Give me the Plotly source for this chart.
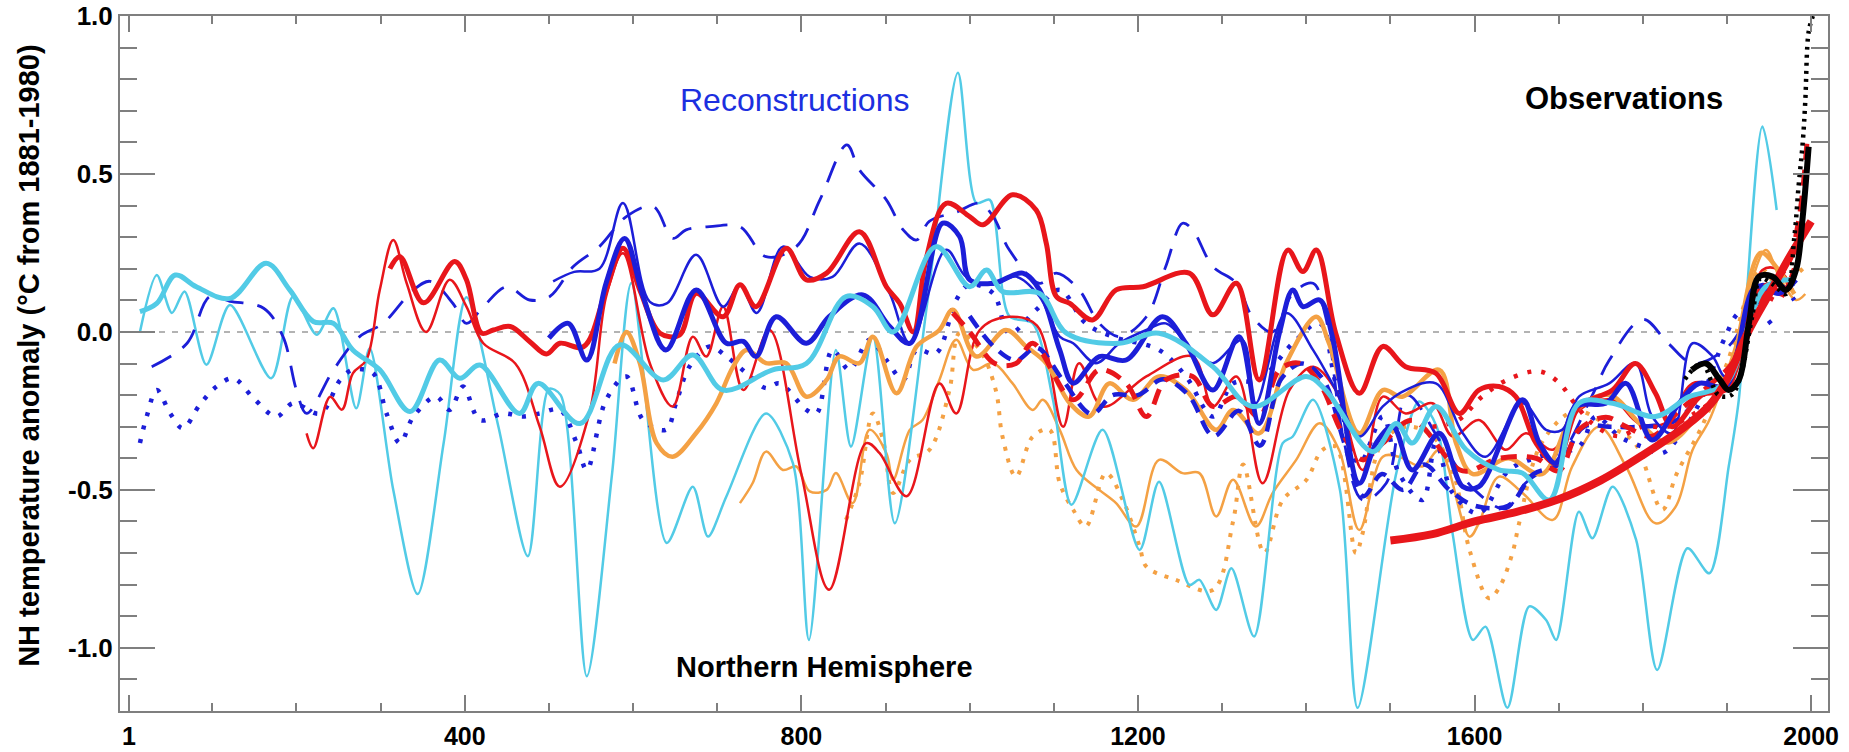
import plotly.graph_objects as go

# ---------------- data (years, anomaly degC) ----------------
cyan_thick_x = [14,34,56,81,121,164,192,220,244,267,299,335,370,394,418,465,487,537,584,636,671,707,766,806,853,885,909,960,1000,1020,1039,1083,1115,1178,1225,1289,1336,1400,1423,1479,1507,1526,1554,1590,1629,1657,1689,1724,1764,1815,1855,1883,1902,1946,1979]
cyan_thick_y = [0.064,0.09,0.18,0.143,0.106,0.217,0.133,0.033,0.027,-0.057,-0.12,-0.252,-0.089,-0.147,-0.105,-0.258,-0.163,-0.29,-0.041,-0.152,-0.073,-0.184,-0.12,-0.1,0.112,0.08,0.0,0.27,0.143,0.196,0.128,0.122,-0.004,-0.036,-0.004,-0.11,-0.236,-0.141,-0.184,-0.379,-0.29,-0.352,-0.236,-0.373,-0.437,-0.447,-0.532,-0.226,-0.226,-0.268,-0.205,-0.184,-0.152,0.143,0.165]

cyan_thin_x = [14,34,52,67,93,121,170,196,224,244,271,287,315,344,375,402,440,475,500,514,545,575,598,640,671,689,711,758,790,809,841,859,885,911,950,986,1008,1024,1047,1075,1099,1121,1158,1202,1225,1261,1273,1293,1311,1338,1372,1384,1408,1440,1461,1507,1534,1555,1574,1598,1613,1639,1665,1685,1697,1724,1740,1764,1792,1817,1853,1879,1902,1914,1942,1959]
cyan_thin_y = [0.0,0.18,0.06,0.128,-0.104,0.085,-0.147,0.112,-0.009,0.075,-0.242,-0.052,-0.5,-0.83,-0.35,0.11,-0.3,-0.71,-0.18,-0.2,-1.09,-0.45,0.155,-0.668,-0.49,-0.648,-0.52,-0.258,-0.416,-0.975,-0.057,-0.363,-0.015,-0.606,0.1,0.82,0.408,0.418,0.05,0.027,-0.215,-0.547,-0.31,-0.69,-0.474,-0.801,-0.785,-0.88,-0.748,-0.964,-0.352,-0.331,-0.215,-0.5,-1.19,-0.447,-0.22,-0.3,-0.64,-0.975,-0.933,-1.19,-0.869,-0.912,-0.975,-0.569,-0.653,-0.49,-0.658,-1.07,-0.685,-0.764,-0.426,-0.215,0.65,0.386]

red_thick_x = [311,323,351,388,402,420,434,454,477,497,513,541,568,588,608,632,655,675,707,727,746,782,806,830,869,901,917,933,948,972,1000,1016,1051,1079,1091,1103,1119,1146,1174,1206,1261,1289,1317,1344,1378,1396,1412,1435,1463,1491,1518,1554,1582,1605,1629,1649,1673,1697,1724,1764,1791,1815,1835,1870,1900,1930,1950,1965,1980]
red_thick_y = [0.2,0.238,0.092,0.223,0.165,-0.004,0.006,0.017,-0.03,-0.07,-0.036,-0.047,0.133,0.265,0.133,-0.004,-0.01,0.122,0.048,0.149,0.08,0.265,0.165,0.186,0.317,0.143,0.09,0.0,0.228,0.407,0.365,0.339,0.434,0.386,0.281,0.112,0.09,0.038,0.133,0.143,0.186,0.054,0.154,-0.152,0.259,0.191,0.259,-0.004,-0.194,-0.046,-0.11,-0.131,-0.258,-0.184,-0.173,-0.205,-0.352,-0.416,-0.236,-0.184,-0.1,-0.194,-0.3,-0.2,-0.18,0.1,0.15,0.12,0.2]

red_thin_x = [212,220,240,254,267,283,299,315,331,354,382,402,422,460,489,513,548,568,588,620,647,671,687,707,731,762,800,833,877,893,925,964,984,1012,1047,1080,1111,1130,1158,1210,1265,1289,1317,1348,1380,1408,1435,1467,1491,1518,1550,1574,1605,1637,1661,1693,1724,1764,1795,1827,1859,1902,1942,1962,1978]
red_thin_y = [-0.321,-0.368,-0.205,-0.246,-0.131,-0.089,0.133,0.291,0.154,0.0,0.165,0.08,-0.036,-0.1,-0.3,-0.49,-0.258,0.112,0.249,-0.1,-0.236,-0.015,-0.078,0.08,-0.184,0.006,-0.45,-0.816,-0.352,-0.384,-0.52,-0.163,-0.258,0.006,0.048,0.02,-0.3,-0.099,-0.236,-0.141,-0.078,-0.236,-0.141,-0.479,-0.184,-0.11,-0.184,-0.437,-0.205,-0.258,-0.226,-0.331,-0.279,-0.373,-0.321,-0.373,-0.247,-0.215,-0.289,-0.289,-0.163,-0.163,0.196,0.196,0.133]

blue_thick_x = [500,523,545,568,590,612,639,675,711,731,746,770,806,833,873,905,929,968,988,1000,1028,1063,1083,1107,1123,1154,1186,1229,1257,1289,1320,1344,1368,1384,1396,1416,1431,1463,1483,1503,1526,1558,1586,1605,1657,1677,1697,1720,1756,1780,1811,1843,1867,1898,1934,1962,1982]
blue_thick_y = [-0.02,0.027,-0.089,0.155,0.296,0.112,-0.057,0.133,-0.036,-0.03,-0.078,0.048,-0.036,0.048,0.117,0.017,-0.036,0.344,0.302,0.165,0.154,0.186,0.133,-0.057,-0.162,-0.078,-0.089,0.048,-0.036,-0.184,-0.015,-0.29,-0.004,0.133,0.08,0.101,-0.015,-0.479,-0.352,-0.3,-0.437,-0.321,-0.49,-0.49,-0.215,-0.352,-0.416,-0.236,-0.226,-0.163,-0.342,-0.226,-0.163,-0.173,0.143,0.122,0.165]

blue_thin_x = [505,530,560,588,620,640,675,707,727,747,778,810,837,869,905,929,972,996,1028,1055,1083,1107,1123,1150,1178,1210,1233,1265,1289,1324,1340,1376,1408,1435,1463,1491,1518,1554,1586,1613,1657,1685,1704,1724,1760,1791,1811,1835,1859,1883,1898,1940,1965,1980]
blue_thin_y = [0.16,0.19,0.2,0.408,0.095,0.09,0.244,0.08,0.148,0.06,0.27,0.174,0.174,0.28,0.122,-0.036,0.26,0.174,0.15,0.175,0.112,-0.015,-0.036,-0.099,-0.036,0.006,0.027,-0.057,-0.099,-0.025,-0.226,0.06,-0.057,-0.184,-0.331,-0.236,-0.184,-0.163,-0.321,-0.395,-0.226,-0.31,-0.31,-0.205,-0.163,-0.099,-0.268,-0.321,-0.036,-0.078,-0.141,0.15,0.13,0.17]

blue_dash_x = [28,70,97,121,161,184,200,212,244,275,303,339,359,386,402,422,450,477,501,529,560,592,624,647,663,691,727,758,794,822,854,869,901,921,937,952,985,1012,1028,1047,1083,1103,1130,1154,1178,1210,1233,1253,1265,1289,1317,1336,1360,1384,1408,1423,1443,1467,1495,1520,1560,1600,1637,1660,1700,1740,1760,1800,1830,1860,1900,1940,1980]
blue_dash_y = [-0.11,-0.036,0.112,0.097,0.075,-0.015,-0.184,-0.258,-0.12,-0.015,0.027,0.133,0.16,0.09,0.027,0.08,0.143,0.101,0.112,0.207,0.27,0.365,0.397,0.296,0.323,0.333,0.333,0.238,0.27,0.418,0.592,0.513,0.418,0.323,0.291,0.35,0.38,0.407,0.365,0.26,0.154,0.186,0.133,0.027,-0.015,0.048,0.207,0.344,0.323,0.207,0.154,0.048,0.0,0.122,0.154,0.048,-0.321,-0.532,-0.479,-0.2,-0.35,-0.5,-0.56,-0.48,-0.4,-0.2,-0.09,0.04,-0.036,-0.1,-0.05,0.1,0.15]

blue_thickdash_x = [1000,1030,1055,1080,1110,1145,1170,1200,1230,1260,1290,1320,1345,1370,1395,1420,1445,1468,1490,1515,1540,1570,1600,1640,1670,1700,1730,1760,1800,1840,1870,1900,1930,1960,1980]
blue_thickdash_y = [0.05,-0.05,-0.09,-0.05,-0.15,-0.26,-0.2,-0.2,-0.15,-0.2,-0.33,-0.25,-0.36,-0.15,-0.1,-0.15,-0.35,-0.52,-0.45,-0.5,-0.42,-0.5,-0.55,-0.55,-0.45,-0.42,-0.3,-0.3,-0.3,-0.28,-0.2,-0.15,0.05,0.15,0.1]

blue_dot_x = [14,22,34,50,65,85,105,125,149,176,196,228,252,267,291,307,323,339,366,382,398,418,446,469,489,513,533,545,568,592,612,639,651,667,691,711,735,758,774,806,818,837,857,881,901,921,937,960,984,1000,1028,1047,1079,1107,1138,1170,1225,1257,1289,1313,1344,1384,1416,1435,1463,1491,1510,1538,1554,1574,1605,1641,1677,1724,1744,1772,1799,1823,1843,1867,1898,1914,1934,1958]
blue_dot_y = [-0.352,-0.268,-0.184,-0.258,-0.305,-0.231,-0.173,-0.147,-0.21,-0.268,-0.226,-0.258,-0.152,-0.12,-0.131,-0.258,-0.352,-0.268,-0.205,-0.247,-0.173,-0.279,-0.258,-0.268,-0.258,-0.247,-0.352,-0.437,-0.215,-0.141,-0.279,-0.31,-0.226,-0.11,-0.046,-0.078,-0.131,-0.178,-0.163,-0.247,-0.258,-0.057,-0.12,-0.025,-0.089,-0.152,-0.057,-0.068,0.101,0.15,0.122,-0.004,0.07,0.133,0.027,-0.015,-0.057,-0.141,-0.268,-0.163,-0.152,-0.036,0.027,-0.163,-0.416,-0.268,-0.447,-0.532,-0.352,-0.51,-0.574,-0.437,-0.395,-0.363,-0.268,-0.331,-0.363,-0.384,-0.331,-0.226,-0.015,0.06,0.07,0.006]

orange_thick_x = [578,592,608,628,647,675,699,719,735,758,782,806,830,845,869,885,913,937,964,980,1008,1043,1067,1091,1119,1142,1166,1194,1225,1257,1293,1313,1344,1376,1412,1427,1463,1491,1514,1558,1578,1598,1640,1680,1720,1760,1800,1830,1870,1900,1940,1960,1980]
orange_thick_y = [-0.1,0.0,-0.099,-0.352,-0.395,-0.32,-0.226,-0.11,-0.057,-0.099,-0.099,-0.205,-0.152,-0.078,-0.099,-0.015,-0.194,-0.046,0.006,0.07,-0.078,0.006,-0.046,-0.099,-0.226,-0.268,-0.163,-0.215,-0.141,-0.184,-0.31,-0.247,-0.321,-0.099,0.048,-0.036,-0.321,-0.184,-0.205,-0.12,-0.352,-0.45,-0.4,-0.45,-0.25,-0.2,-0.3,-0.35,-0.25,-0.15,0.25,0.2,0.12]

orange_thin_x = [727,742,758,778,794,810,830,841,861,881,901,909,929,944,964,984,1004,1028,1051,1075,1087,1107,1127,1154,1174,1198,1225,1253,1273,1293,1313,1340,1360,1388,1416,1439,1463,1491,1510,1538,1558,1594,1605,1629,1657,1693,1716,1748,1780,1815,1839,1859,1879,1906,1946,1962,1982,1993]
orange_thin_y = [-0.542,-0.479,-0.379,-0.437,-0.426,-0.505,-0.5,-0.447,-0.542,-0.31,-0.384,-0.468,-0.31,-0.279,-0.152,-0.025,-0.12,-0.099,-0.163,-0.247,-0.215,-0.31,-0.437,-0.5,-0.542,-0.616,-0.405,-0.447,-0.447,-0.584,-0.468,-0.616,-0.51,-0.405,-0.289,-0.374,-0.627,-0.395,-0.395,-0.426,-0.374,-0.648,-0.606,-0.458,-0.51,-0.595,-0.426,-0.3,-0.426,-0.606,-0.553,-0.374,-0.279,-0.078,0.259,0.175,0.101,0.12]

orange_dot_x = [853,869,885,897,909,929,952,976,988,1012,1031,1039,1055,1075,1095,1107,1123,1138,1162,1182,1202,1210,1245,1289,1313,1325,1350,1372,1400,1419,1435,1459,1467,1490,1520,1550,1575,1594,1617,1629,1645,1653,1680,1720,1760,1790,1823,1840,1870,1900,1940,1960,1990]
orange_dot_y = [-0.595,-0.479,-0.258,-0.342,-0.51,-0.405,-0.374,-0.184,-0.004,-0.057,-0.184,-0.331,-0.458,-0.331,-0.31,-0.479,-0.563,-0.616,-0.447,-0.532,-0.68,-0.743,-0.785,-0.817,-0.6,-0.42,-0.7,-0.532,-0.469,-0.374,-0.363,-0.7,-0.637,-0.35,-0.3,-0.33,-0.45,-0.69,-0.843,-0.811,-0.7,-0.605,-0.35,-0.25,-0.3,-0.35,-0.563,-0.45,-0.3,-0.1,0.2,0.15,0.2]

red_dash_x = [980,1000,1030,1055,1075,1123,1154,1186,1210,1233,1265,1289,1317,1344,1368,1392,1416,1443,1467,1491,1526,1586,1629,1673,1700,1724,1756,1780,1811,1843,1883,1906,1930,1950,1970,1985,1995]
red_dash_y = [0.06,0.0,-0.1,-0.1,-0.036,-0.215,-0.12,-0.163,-0.268,-0.152,-0.141,-0.236,-0.205,-0.268,-0.12,-0.099,-0.163,-0.321,-0.405,-0.352,-0.28,-0.44,-0.4,-0.4,-0.44,-0.31,-0.27,-0.3,-0.33,-0.25,-0.16,-0.1,0.05,0.15,0.2,0.35,0.6]

red_dot_x = [1550,1580,1609,1640,1677,1700,1720,1740,1770,1800,1830,1860,1890,1910,1940,1960,1980]
red_dot_y = [-0.3,-0.28,-0.205,-0.15,-0.125,-0.16,-0.23,-0.29,-0.33,-0.3,-0.3,-0.26,-0.2,-0.1,0.12,0.1,0.2]

borehole_x = [1500,1550,1600,1650,1700,1750,1800,1850,1880,1900,1925,1950,1975,2000]
borehole_y = [-0.66,-0.64,-0.6,-0.57,-0.53,-0.47,-0.39,-0.3,-0.23,-0.15,0.0,0.12,0.24,0.35]

obs_x = [1858,1875,1891,1902,1914,1926,1938,1954,1970,1982,1990,1997]
obs_y = [-0.12,-0.1,-0.15,-0.184,-0.152,0.027,0.175,0.175,0.133,0.196,0.365,0.586]

obs_dot_x = [1850,1870,1890,1905,1915,1930,1940,1955,1970,1980,1985,1990,1993,1997,2002]
obs_dot_y = [-0.15,-0.1,-0.2,-0.2,-0.15,0.05,0.17,0.15,0.12,0.3,0.46,0.6,0.73,0.95,1.0]

x_tick_vals = [1, 400, 800, 1200, 1600, 2000]
x_tick_text = ["1", "400", "800", "1200", "1600", "2000"]
x_minor_vals = [100,200,300,500,600,700,900,1000,1100,1300,1400,1500,1700,1800,1900]
y_tick_vals = [-1.0, -0.5, 0.0, 0.5, 1.0]
y_tick_text = ["-1.0", "-0.5", "0.0", "0.5", "1.0"]

# ---------------- styles ----------------
RED = "#e8161b"
BLUE = "#1c1ed8"
CYAN = "#52cbe6"
ORANGE = "#f4a144"
BLACK = "#000000"

fig = go.Figure()

def add(x, y, color, width, dash="solid", smooth=1.0):
    fig.add_trace(go.Scatter(x=x, y=y, mode="lines",
                             line=dict(color=color, width=width, dash=dash,
                                       shape="spline", smoothing=smooth),
                             hoverinfo="skip", showlegend=False))

add(orange_dot_x, orange_dot_y, ORANGE, 4, "4px,8px")
add(orange_thin_x, orange_thin_y, ORANGE, 2.5)
add(cyan_thin_x, cyan_thin_y, CYAN, 2.5, smooth=0.8)
add(blue_dot_x, blue_dot_y, BLUE, 4.5, "4px,10px")
add(blue_dash_x, blue_dash_y, BLUE, 2.8, "22px,14px")
add(red_thin_x, red_thin_y, RED, 2.5)
add(orange_thick_x, orange_thick_y, ORANGE, 4.5)
add(blue_thin_x, blue_thin_y, BLUE, 2.5)
add(blue_thickdash_x, blue_thickdash_y, BLUE, 4.5, "14px,9px")
add(red_dash_x, red_dash_y, RED, 5, "16px,10px")
add(red_dot_x, red_dot_y, RED, 4.5, "4px,10px")
add(red_thick_x, red_thick_y, RED, 5)
add(blue_thick_x, blue_thick_y, BLUE, 5)
add(cyan_thick_x, cyan_thick_y, CYAN, 5)
add(borehole_x, borehole_y, RED, 8)
add(obs_x, obs_y, BLACK, 6)
add(obs_dot_x, obs_dot_y, BLACK, 4.5, "3px,5px")

AXC = "#7f7f7f"
FONT = "Liberation Sans, Arial, sans-serif"
xtickfont = dict(family=FONT, size=25, color="black", weight="bold")
ytickfont = dict(family=FONT, size=26, color="black", weight="bold")

fig.update_layout(
    width=1849, height=752,
    margin=dict(l=120, r=21, t=16, b=41),
    paper_bgcolor="white", plot_bgcolor="white",
    showlegend=False,
    xaxis=dict(range=[-9.7, 2020], tickmode="array", tickvals=x_tick_vals, ticktext=x_tick_text,
               ticks="inside", ticklen=16, tickwidth=1.5, tickcolor=AXC,
               showline=True, linecolor=AXC, linewidth=2, mirror="ticks",
               showgrid=False, zeroline=False, tickfont=xtickfont, ticklabelstandoff=2,
               automargin=False,
               minor=dict(tickmode="array", tickvals=x_minor_vals, ticks="inside",
                          ticklen=8, tickwidth=1.5, tickcolor=AXC, showgrid=False)),
    yaxis=dict(range=[-1.2, 1.0], tickmode="array", tickvals=y_tick_vals, ticktext=y_tick_text,
               ticks="inside", ticklen=35, tickwidth=1.5, tickcolor=AXC,
               showline=True, linecolor=AXC, linewidth=2, mirror="ticks",
               showgrid=False, zeroline=False, tickfont=ytickfont, ticklabelstandoff=0,
               automargin=False,
               minor=dict(dtick=0.1, tick0=0, ticks="inside", ticklen=17, tickwidth=1.5,
                          tickcolor=AXC, showgrid=False)),
    shapes=[dict(type="line", xref="paper", x0=0, x1=1, yref="y", y0=0, y1=0,
                 line=dict(color="#9a9a9a", width=1.5, dash="6px,7px"), layer="below")],
    annotations=[
        dict(text="NH temperature anomaly (°C from 1881-1980)", xref="paper", yref="paper",
             x=-0.0533, y=0.511, textangle=-90, showarrow=False, xanchor="center", yanchor="middle",
             font=dict(family=FONT, size=29, color="black", weight="bold")),
        dict(text="Reconstructions", xref="x", yref="y", x=792, y=0.734, showarrow=False,
             font=dict(family=FONT, size=32, color="#1c2fe0")),
        dict(text="Observations", xref="x", yref="y", x=1778, y=0.74, showarrow=False,
             font=dict(family=FONT, size=31, color="black", weight="bold")),
        dict(text="Northern Hemisphere", xref="x", yref="y", x=828, y=-1.06, showarrow=False,
             font=dict(family=FONT, size=29, color="black", weight="bold")),
    ],
)

fig.write_html("out.html", config={"displayModeBar": False},
               post_script="document.body.style.margin='0';document.body.style.overflow='hidden';")
